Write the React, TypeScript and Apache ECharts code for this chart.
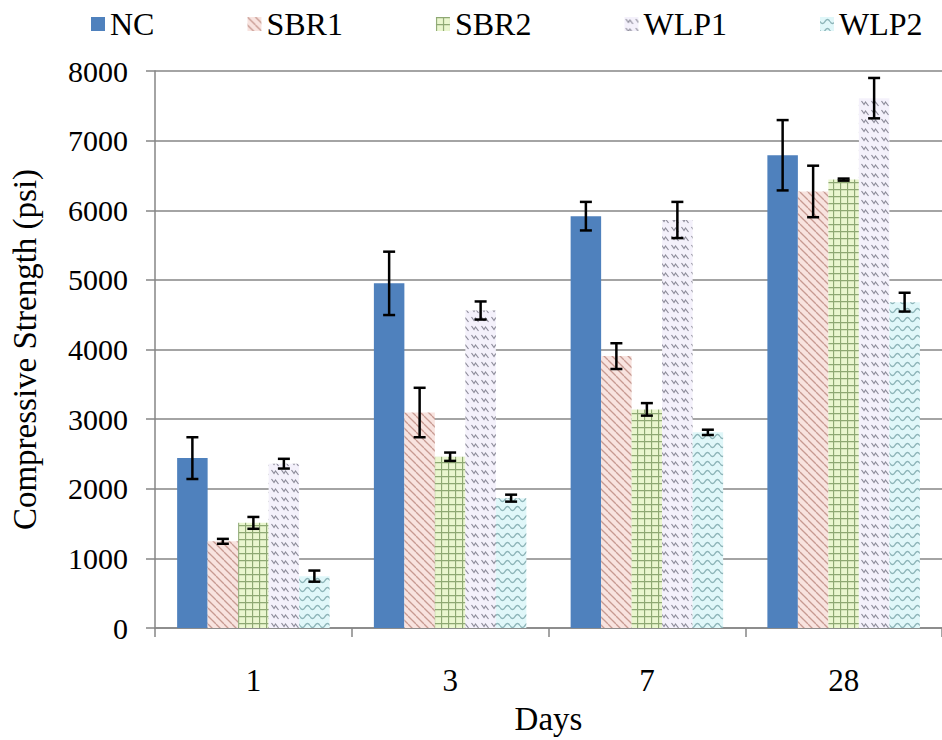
import React, { useEffect, useRef } from 'react';
import * as echarts from 'echarts';

const categories = ['1', '3', '7', '28'];
const seriesNames = ['NC', 'SBR1', 'SBR2', 'WLP1', 'WLP2'];

const ncValues = [2440, 4950, 5915, 6790];
const sbr1Values = [1245, 3095, 3905, 6270];
const sbr2Values = [1510, 2460, 3140, 6440];
const wlp1Values = [2360, 4560, 5860, 7610];
const wlp2Values = [745, 1865, 2810, 4680];

// +/- half length of the error bars
const ncErrors = [300, 455, 205, 505];
const sbr1Errors = [35, 355, 185, 370];
const sbr2Errors = [85, 60, 90, 15];
const wlp1Errors = [70, 130, 260, 290];
const wlp2Errors = [80, 50, 38, 135];

const yTicks = [0, 1000, 2000, 3000, 4000, 5000, 6000, 7000, 8000];

const FONT = '"Liberation Serif", "Times New Roman", serif';
const GRAY = '#868686';
const GAP = 0.225;

// small canvas tiles for the Excel-like fill patterns
function makeTile(w: number, h: number, draw: (ctx: CanvasRenderingContext2D) => void) {
  const c = document.createElement('canvas');
  c.width = w;
  c.height = h;
  const ctx = c.getContext('2d') as CanvasRenderingContext2D;
  draw(ctx);
  return { image: c, repeat: 'repeat', imageWidth: w, imageHeight: h };
}

function buildPatterns() {
  const diag = makeTile(8, 8, (ctx) => {
    ctx.fillStyle = '#f8e3df';
    ctx.fillRect(0, 0, 8, 8);
    ctx.strokeStyle = '#c79a92';
    ctx.lineWidth = 1.3;
    [-8, 0, 8].forEach((c) => {
      ctx.beginPath();
      ctx.moveTo(c, 0);
      ctx.lineTo(c + 8, 8);
      ctx.stroke();
    });
  });
  const grid = makeTile(7, 7, (ctx) => {
    ctx.fillStyle = '#eaf6cf';
    ctx.fillRect(0, 0, 7, 7);
    ctx.strokeStyle = '#8ea873';
    ctx.lineWidth = 1.3;
    ctx.beginPath();
    ctx.moveTo(0.5, 0);
    ctx.lineTo(0.5, 7);
    ctx.moveTo(0, 0.5);
    ctx.lineTo(7, 0.5);
    ctx.stroke();
  });
  const zigzag = makeTile(10, 9, (ctx) => {
    ctx.fillStyle = '#f4f1fb';
    ctx.fillRect(0, 0, 10, 9);
    ctx.strokeStyle = '#8d8c9a';
    ctx.lineWidth = 1.2;
    ctx.beginPath();
    ctx.moveTo(1.5, 2);
    ctx.lineTo(4, 5.5);
    ctx.lineTo(5.5, 3);
    ctx.lineTo(8.5, 7);
    ctx.stroke();
  });
  const wave = makeTile(10, 9, (ctx) => {
    ctx.fillStyle = '#e0f7f9';
    ctx.fillRect(0, 0, 10, 9);
    ctx.strokeStyle = '#8db4b8';
    ctx.lineWidth = 1.4;
    ctx.beginPath();
    for (let x = 0; x <= 10; x += 0.5) {
      const y = 4.5 + 2 * Math.sin((2 * Math.PI * x) / 10);
      if (x === 0) ctx.moveTo(x, y);
      else ctx.lineTo(x, y);
    }
    ctx.stroke();
  });
  return ['#4f81bd', diag, grid, zigzag, wave];
}

function App() {
  const chartRef = useRef<HTMLDivElement>(null);

  useEffect(() => {
    if (!chartRef.current) return undefined;

    const values = [ncValues, sbr1Values, sbr2Values, wlp1Values, wlp2Values];
    const errors = [ncErrors, sbr1Errors, sbr2Errors, wlp1Errors, wlp2Errors];
    const fills = buildPatterns();

    const errorData: number[][] = [];
    values.forEach((vals, s) => {
      vals.forEach((v, c) => {
        errorData.push([c, s, v - errors[s][c], v + errors[s][c]]);
      });
    });

    const option = {
      animation: false,
      textStyle: { fontFamily: FONT, color: '#000' },
      legend: {
        data: seriesNames,
        left: 86,
        top: 3,
        itemWidth: 14,
        itemHeight: 14,
        itemGap: 93,
        icon: 'rect',
        textStyle: { fontFamily: FONT, fontSize: 32, color: '#000' },
      },
      grid: { left: 153, right: -9, top: 71, bottom: 109 },
      xAxis: {
        type: 'category',
        data: categories,
        name: 'Days',
        nameLocation: 'middle',
        nameGap: 74,
        nameTextStyle: { fontFamily: FONT, fontSize: 33, color: '#000' },
        axisLine: { lineStyle: { color: GRAY, width: 1.5 } },
        axisTick: { show: true, length: 9, lineStyle: { color: GRAY, width: 1.5 } },
        axisLabel: { fontFamily: FONT, fontSize: 31, color: '#000', margin: 37 },
      },
      yAxis: {
        type: 'value',
        min: yTicks[0],
        max: yTicks[yTicks.length - 1],
        interval: 1000,
        name: 'Compressive Strength (psi)',
        nameLocation: 'middle',
        nameGap: 114,
        nameTextStyle: { fontFamily: FONT, fontSize: 33, color: '#000' },
        axisLine: { show: true, lineStyle: { color: GRAY, width: 1.5 } },
        axisTick: { show: true, length: 9, lineStyle: { color: GRAY, width: 1.5 } },
        axisLabel: {
          fontFamily: FONT,
          fontSize: 30,
          color: '#000',
          margin: 27,
          formatter: (v: number) => String(v),
        },
        splitLine: { lineStyle: { color: GRAY, width: 1.5 } },
      },
      series: [
        ...seriesNames.map((name, i) => ({
          name,
          type: 'bar',
          data: values[i],
          barGap: '0%',
          barCategoryGap: `${GAP * 100}%`,
          itemStyle: { color: fills[i] },
        })),
        {
          type: 'custom',
          name: 'errors',
          z: 10,
          encode: { x: 0, y: [2, 3] },
          data: errorData,
          renderItem: (params: any, api: any) => {
            const cat = api.value(0);
            const s = api.value(1);
            const catW = api.size([1, 0])[0];
            const barW = (catW * (1 - GAP)) / 5;
            const x = api.coord([cat, 0])[0] + (s - 2) * barW;
            const yHi = api.coord([cat, api.value(3)])[1];
            const yLo = api.coord([cat, api.value(2)])[1];
            const cap = 6;
            const style = { stroke: '#000', lineWidth: 2.5 };
            return {
              type: 'group',
              children: [
                { type: 'line', shape: { x1: x, y1: yHi, x2: x, y2: yLo }, style },
                { type: 'line', shape: { x1: x - cap, y1: yHi, x2: x + cap, y2: yHi }, style },
                { type: 'line', shape: { x1: x - cap, y1: yLo, x2: x + cap, y2: yLo }, style },
              ],
            };
          },
        },
      ],
    };

    const myChart = echarts.init(chartRef.current, null, { renderer: 'svg' });
    myChart.setOption(option as any);

    return () => {
      myChart.dispose();
    };
  }, []);

  return (
    <div
      ref={chartRef}
      style={{
        position: 'fixed',
        left: 0,
        top: 0,
        width: '942px',
        height: '740px',
        background: '#fff',
      }}
    />
  );
}

export default App;
